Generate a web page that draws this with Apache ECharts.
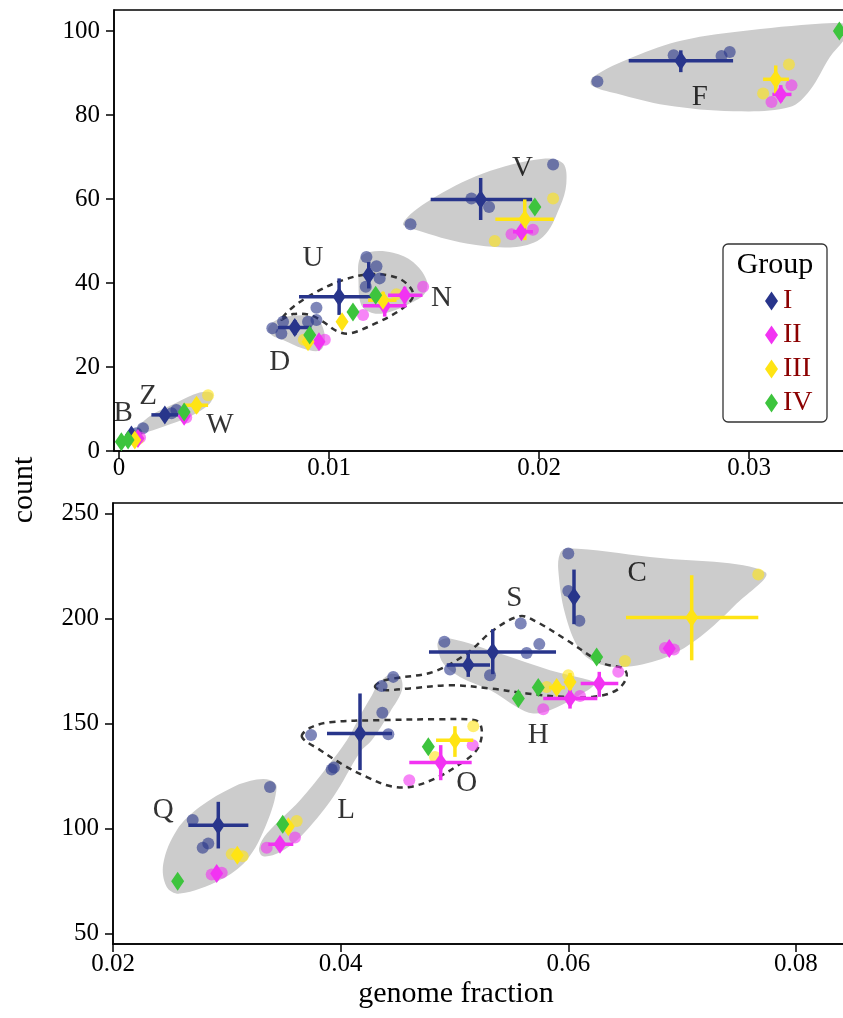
<!DOCTYPE html>
<html>
<head>
<meta charset="utf-8">
<script src="https://cdn.jsdelivr.net/npm/echarts@6/dist/echarts.min.js"></script>
<style>
  html, body { margin: 0; padding: 0; background: #fff; }
  #main { width: 843px; height: 1018px; }
</style>
</head>
<body>
<div id="main"></div>
<script>
const FONT = "'Liberation Serif', 'DejaVu Serif', serif";
const colI = '#28358B', colII = '#F233F2', colIII = '#FFE414', colIV = '#3DC43D';
const groups = ['I', 'II', 'III', 'IV'];

// tick values
const topXTicks = [0, 0.01, 0.02, 0.03];
const topYTicks = [0, 20, 40, 60, 80, 100];
const botXTicks = [0.02, 0.04, 0.06, 0.08];
const botYTicks = [50, 100, 150, 200, 250];

// group means: [x, y, xLow, xHigh, yLow, yHigh]
const topMeansI = [
  [0.02675, 92.9, 0.02427, 0.02924, 90.2, 95.4],
  [0.01722, 59.9, 0.01484, 0.01967, 55.0, 65.0],
  [0.01048, 36.7, 0.00857, 0.0125, 32.4, 41.1],
  [0.01189, 41.9, 0.0117, 0.01208, 38.7, 45.0],
  [0.00837, 29.4, 0.00757, 0.00916, 27.6, 31.2],
  [0.00218, 8.6, 0.00154, 0.00281, 7.1, 10.1],
  [0.00059, 3.8, 0.0004, 0.0008, 2.5, 5.0]
];
const topMeansII = [
  [0.03151, 84.9, 0.03111, 0.03202, 83.1, 87.1],
  [0.01916, 52.2, 0.01876, 0.01971, 51.0, 53.4],
  [0.01265, 34.6, 0.01162, 0.01369, 32.0, 36.7],
  [0.0136, 37.1, 0.01281, 0.01445, 35.1, 39.1],
  [0.00952, 26.0, 0.00952, 0.00952, 25.0, 27.0],
  [0.0031, 8.3, 0.0031, 0.0031, 7.5, 9.0],
  [0.0009, 3.0, 0.0009, 0.0009, 2.2, 3.8]
];
const topMeansIII = [
  [0.03127, 88.5, 0.03067, 0.0319, 85.1, 91.8],
  [0.01932, 55.2, 0.01792, 0.0207, 50.2, 59.9],
  [0.01257, 35.9, 0.01186, 0.01321, 33.5, 37.9],
  [0.01062, 30.8, 0.01062, 0.01062, 30.8, 30.8],
  [0.009, 26.0, 0.0088, 0.0092, 25.0, 27.0],
  [0.00369, 10.9, 0.00305, 0.00424, 9.0, 12.5],
  [0.00075, 2.6, 0.00075, 0.00075, 2.0, 3.2]
];
const topMeansIV = [
  [0.0343, 100], [0.0198, 58.1], [0.01222, 37.1], [0.01114, 33.1],
  [0.00908, 27.6], [0.0031, 9.3], [0.00011, 2.2], [0.00043, 2.6]
];

const botMeansI = [
  [0.0605, 210.3, 0.0604, 0.0606, 197.3, 223.3],
  [0.05336, 184.1, 0.04776, 0.05892, 173.5, 194.9],
  [0.05121, 177.8, 0.04932, 0.05312, 172.2, 183.3],
  [0.0417, 145.2, 0.0388, 0.04451, 127.8, 164.3],
  [0.02925, 101.6, 0.02662, 0.03189, 90.5, 112.7]
];
const botMeansII = [
  [0.06887, 185.7, 0.06887, 0.06887, 185.7, 185.7],
  [0.06015, 161.9, 0.0578, 0.06255, 157.1, 166.2],
  [0.06272, 169.0, 0.06109, 0.06439, 162.7, 174.6],
  [0.04879, 131.4, 0.04603, 0.05151, 123.0, 139.7],
  [0.03467, 92.5, 0.03364, 0.03584, 90.5, 94.5],
  [0.02911, 78.6, 0.02911, 0.02911, 77.5, 79.5]
];
const botMeansIII = [
  [0.07084, 200.5, 0.06507, 0.07669, 180.1, 220.6],
  [0.05898, 167.1, 0.0583, 0.0597, 165.0, 169.0],
  [0.06015, 169.8, 0.06015, 0.06015, 166.0, 174.0],
  [0.05004, 142.0, 0.04838, 0.05165, 134.1, 148.7],
  [0.0354, 100.8, 0.035, 0.0358, 98.5, 103.0],
  [0.03092, 87.3, 0.0306, 0.0312, 86.0, 88.5]
];
const botMeansIV = [
  [0.06249, 181.7], [0.05561, 161.9], [0.05736, 167.1],
  [0.0477, 138.9], [0.03491, 102.0], [0.02568, 74.9]
];

// single samples
const topDotsI = [
  [0.02278, 88.0], [0.02641, 94.2], [0.02869, 94.05], [0.02908, 95.0],
  [0.01388, 54.0], [0.01678, 60.1], [0.01762, 58.1], [0.02067, 68.2],
  [0.0094, 34.1], [0.01178, 46.2], [0.01226, 44.0], [0.01241, 41.1], [0.01175, 39.1],
  [0.0073, 29.2], [0.00781, 30.8], [0.00773, 28.0], [0.009, 30.8], [0.0094, 31.2],
  [0.00114, 5.4], [0.00273, 9.75], [0.0025, 9.0], [0.00083, 4.2]
];
const topDotsII = [
  [0.03107, 83.1], [0.03202, 87.1], [0.01869, 51.6], [0.01971, 52.7],
  [0.01448, 39.1], [0.01162, 32.4], [0.0098, 26.5], [0.0032, 8.0], [0.001, 3.2]
];
const topDotsIII = [
  [0.0319, 92.0], [0.03067, 85.1], [0.02067, 60.1], [0.01789, 50.0],
  [0.01321, 37.3], [0.00424, 13.3], [0.0088, 26.5], [0.0009, 2.8]
];
const botDotsI = [
  [0.06, 231.0], [0.06, 213.1], [0.06097, 198.9], [0.04911, 188.9], [0.04961, 175.7],
  [0.05312, 173.0], [0.05582, 197.6], [0.05634, 183.6], [0.05745, 187.8],
  [0.04462, 172.2], [0.0436, 167.8], [0.04419, 144.9], [0.04366, 155.1],
  [0.03921, 128.1], [0.03941, 129.0], [0.0374, 144.5],
  [0.027, 104.0], [0.02788, 90.8], [0.02837, 92.9], [0.03379, 119.8]
];
const botDotsII = [
  [0.06849, 186.0], [0.06928, 185.2], [0.0578, 156.8], [0.06103, 163.1], [0.06439, 174.6],
  [0.0516, 139.7], [0.04603, 123.0], [0.0335, 90.8], [0.03599, 95.7],
  [0.02867, 78.1], [0.02955, 78.9]
];
const botDotsIII = [
  [0.07669, 221.0], [0.06498, 179.8], [0.0581, 167.4], [0.06, 173.0],
  [0.05165, 148.7], [0.04829, 134.1], [0.03614, 103.6], [0.03043, 87.8], [0.03139, 86.8]
];

// cluster outlines (filled grey, or dashed)
const blobF = [[0.02257, 89.05], [0.02448, 93.81], [0.02686, 97.79], [0.03003, 100.17], [0.034, 101.9], [0.0347, 101.3], [0.0346, 98.5], [0.03385, 93.8], [0.0329, 85.9], [0.03194, 81.9], [0.02924, 80.9], [0.02607, 82.3], [0.02369, 85.1], [0.0225, 87.1]];
const blobV = [[0.01352, 54.18], [0.0148, 59.7], [0.01733, 66.1], [0.02019, 69.6], [0.02114, 68.5], [0.0213, 63.7], [0.02099, 58.1], [0.02019, 51.0], [0.01892, 48.6], [0.01654, 49.4], [0.01416, 52.6]];
const blobN = [[0.0114, 40.7], [0.01146, 45.8], [0.01194, 47.4], [0.01305, 47.2], [0.014, 45.0], [0.01464, 40.7], [0.01456, 37.5], [0.01384, 35.1], [0.01289, 33.1], [0.0121, 32.8], [0.01154, 34.7]];
const blobD = [[0.0071, 29.2], [0.0075, 31.2], [0.00829, 32.2], [0.00924, 32.0], [0.00964, 30.2], [0.0098, 26.4], [0.00956, 23.9], [0.00876, 24.4], [0.00781, 26.4], [0.00726, 27.6]];
const blobZW = [[0.00083, 5.0], [0.00146, 8.3], [0.00273, 11.5], [0.00384, 13.9], [0.00445, 13.7], [0.00432, 11.3], [0.00337, 8.2], [0.0021, 5.8], [0.00114, 4.4]];
const dashU = [[0.00773, 31.3], [0.00829, 32.6], [0.00908, 32.4], [0.00971, 30.8], [0.01035, 28.6], [0.01099, 28.0], [0.01226, 30.5], [0.01337, 33.5], [0.014, 36.7], [0.01384, 39.1], [0.01321, 41.3], [0.01194, 42.1], [0.01067, 40.7], [0.0094, 37.9], [0.00829, 34.3]];

const blobC = [[0.05971, 202.4], [0.05912, 223.0], [0.05927, 231.0], [0.0599, 233.5], [0.06718, 229.3], [0.07728, 222.2], [0.07479, 207.1], [0.07157, 191.2], [0.06864, 181.7], [0.06513, 177.0], [0.06278, 178.2], [0.06103, 184.9]];
const blobH = [[0.04858, 188.9], [0.04961, 190.5], [0.054, 183.3], [0.05839, 175.4], [0.06132, 171.4], [0.06234, 169.0], [0.06074, 162.7], [0.05839, 156.3], [0.05692, 154.8], [0.05547, 157.9], [0.05312, 165.9], [0.05048, 172.2], [0.04902, 178.6], [0.04858, 184.9]];
const blobL = [[0.04328, 168.7], [0.04433, 173.5], [0.04521, 172.5], [0.04539, 165.9], [0.04433, 155.4], [0.04275, 142.1], [0.0417, 136.3], [0.03933, 114.9], [0.03643, 95.8], [0.03467, 88.7], [0.03318, 86.8], [0.03283, 90.6], [0.03353, 97.7], [0.03643, 113.5], [0.0388, 129.2], [0.04056, 142.1], [0.04187, 155.4], [0.04275, 163.5]];
const blobQ = [[0.03379, 123.1], [0.03438, 119.8], [0.0335, 102.4], [0.03175, 85.0], [0.0294, 75.5], [0.02589, 69.0], [0.02472, 72.2], [0.02442, 83.3], [0.0256, 99.2], [0.02764, 110.3], [0.03057, 119.8], [0.03262, 123.3]];
const dashS = [[0.04302, 167.4], [0.04346, 169.8], [0.04462, 171.4], [0.04814, 174.6], [0.05107, 183.3], [0.05341, 194.4], [0.05576, 201.1], [0.05722, 198.4], [0.05986, 189.7], [0.06307, 178.6], [0.06483, 176.2], [0.06513, 172.2], [0.06425, 165.9], [0.0622, 162.7], [0.05956, 162.7], [0.05634, 164.3], [0.05312, 166.7], [0.04961, 168.2], [0.04609, 166.7], [0.04375, 165.9]];
const dashO = [[0.0366, 143.6], [0.0373, 147.9], [0.03906, 150.6], [0.04346, 151.6], [0.04873, 152.0], [0.0518, 151.6], [0.05233, 148.7], [0.05233, 142.1], [0.0518, 136.3], [0.05048, 130.7], [0.04838, 124.0], [0.04609, 119.8], [0.04433, 120.2], [0.04231, 124.5], [0.04038, 129.8], [0.03818, 137.4]];

// cluster names
const topLabels = [['F', 0.02765, 84.3], ['V', 0.01921, 67.3], ['U', 0.00924, 45.9], ['N', 0.01535, 36.3], ['D', 0.00765, 21.2], ['Z', 0.00138, 12.9], ['W', 0.0048, 6.2], ['B', 0.0002, 9.0]];
const botLabels = [['C', 0.06606, 221.4], ['S', 0.05526, 209.5], ['H', 0.05736, 144.4], ['L', 0.04047, 108.7], ['O', 0.05107, 121.4], ['Q', 0.02442, 108.7]];

const chart = echarts.init(document.getElementById('main'));

function fmt(v) { return String(parseFloat(v.toFixed(4))); }

function hull(pts, idx, dashed) {
  return {
    type: 'custom', xAxisIndex: idx, yAxisIndex: idx, silent: true,
    z: dashed ? 2 : 1,
    data: [pts[0]],
    renderItem: function (params, api) {
      var p = pts.map(function (d) { return api.coord(d); });
      return {
        type: 'polygon',
        shape: { points: p, smooth: 0.35 },
        style: dashed
          ? { fill: 'none', stroke: '#333', lineWidth: 2.5, lineDash: [6, 5] }
          : { fill: '#cccccc' }
      };
    }
  };
}

function errBars(rows, idx, color) {
  return {
    type: 'custom', xAxisIndex: idx, yAxisIndex: idx, silent: true, z: 4,
    encode: { x: 0, y: 1 },
    data: rows,
    renderItem: function (params, api) {
      var x = api.value(0), y = api.value(1);
      var a = api.coord([api.value(2), y]), b = api.coord([api.value(3), y]);
      var c = api.coord([x, api.value(4)]), d = api.coord([x, api.value(5)]);
      var st = { stroke: color, lineWidth: 3.5 };
      return {
        type: 'group', children: [
          { type: 'line', shape: { x1: a[0], y1: a[1], x2: b[0], y2: b[1] }, style: st },
          { type: 'line', shape: { x1: c[0], y1: c[1], x2: d[0], y2: d[1] }, style: st }
        ]
      };
    }
  };
}

function means(rows, idx, name, color) {
  return {
    type: 'scatter', name: name, xAxisIndex: idx, yAxisIndex: idx, z: 5,
    symbol: 'diamond', symbolSize: [13, 19], clip: false,
    itemStyle: { color: color, opacity: 1 },
    data: rows.map(function (r) { return [r[0], r[1]]; })
  };
}

function dots(rows, idx, color) {
  return {
    type: 'scatter', xAxisIndex: idx, yAxisIndex: idx, z: 3, silent: true,
    symbol: 'circle', symbolSize: 12, clip: false,
    itemStyle: { color: color, opacity: 0.6 },
    data: rows
  };
}

function labels(rows, idx) {
  return {
    type: 'scatter', xAxisIndex: idx, yAxisIndex: idx, z: 6, silent: true,
    symbolSize: 0, clip: false,
    label: { show: true, position: 'inside', formatter: '{b}', fontFamily: FONT, fontSize: 29, color: '#000' },
    data: rows.map(function (r) { return { name: r[0], value: [r[1], r[2]] }; })
  };
}

const series = [];
[blobF, blobV, blobN, blobD, blobZW].forEach(function (b) { series.push(hull(b, 0, false)); });
series.push(hull(dashU, 0, true));
[blobC, blobH, blobL, blobQ].forEach(function (b) { series.push(hull(b, 1, false)); });
[dashS, dashO].forEach(function (b) { series.push(hull(b, 1, true)); });

series.push(dots(topDotsI, 0, colI), dots(topDotsII, 0, colII), dots(topDotsIII, 0, colIII));
series.push(dots(botDotsI, 1, colI), dots(botDotsII, 1, colII), dots(botDotsIII, 1, colIII));

const topRows = [topMeansI, topMeansII, topMeansIII];
const botRows = [botMeansI, botMeansII, botMeansIII];
const cols = [colI, colII, colIII, colIV];
for (let g = 0; g < 3; g++) {
  series.push(errBars(topRows[g], 0, cols[g]), means(topRows[g], 0, groups[g], cols[g]));
  series.push(errBars(botRows[g], 1, cols[g]), means(botRows[g], 1, groups[g], cols[g]));
}
series.push(means(topMeansIV, 0, 'IV', colIV), means(botMeansIV, 1, 'IV', colIV));
series.push(labels(topLabels, 0), labels(botLabels, 1));

const axisLine = { show: true, onZero: false, lineStyle: { color: '#000', width: 1.5 } };
function axLabel(ticks, margin) {
  return { customValues: ticks, formatter: fmt, margin: margin, fontFamily: FONT, fontSize: 25, color: '#000' };
}
function axTick(ticks) {
  return { show: true, customValues: ticks, length: 8, inside: false, lineStyle: { color: '#000', width: 1.5 } };
}

const option = {
  animation: false,
  backgroundColor: '#fff',
  grid: [
    { left: 114, top: 10, right: -10, height: 441, show: true, borderColor: '#000', borderWidth: 1.5, outerBoundsMode: 'none' },
    { left: 113, top: 503, right: -10, height: 441, show: true, borderColor: '#000', borderWidth: 1.5, outerBoundsMode: 'none' }
  ],
  xAxis: [
    { gridIndex: 0, type: 'value', min: -0.00024, max: 0.03495, axisLine: axisLine, axisTick: axTick(topXTicks), axisLabel: axLabel(topXTicks, 5), splitLine: { show: false } },
    { gridIndex: 1, type: 'value', min: 0.02, max: 0.08501, axisLine: axisLine, axisTick: axTick(botXTicks), axisLabel: axLabel(botXTicks, 8), splitLine: { show: false } }
  ],
  yAxis: [
    { gridIndex: 0, type: 'value', min: 0, max: 105, axisLine: axisLine, axisTick: axTick(topYTicks), axisLabel: axLabel(topYTicks, 14), splitLine: { show: false } },
    { gridIndex: 1, type: 'value', min: 45, max: 255, axisLine: axisLine, axisTick: axTick(botYTicks), axisLabel: axLabel(botYTicks, 14), splitLine: { show: false } }
  ],
  legend: {
    data: groups, orient: 'vertical', left: 765, top: 287, padding: 0,
    icon: 'diamond', itemWidth: 13, itemHeight: 19, itemGap: 6,
    textStyle: { fontFamily: FONT, fontSize: 28, color: '#8B0000' },
    selectedMode: false
  },
  graphic: [
    { type: 'rect', z: 3, shape: { x: 723, y: 244, width: 104, height: 178, r: 5 }, style: { fill: 'none', stroke: '#333', lineWidth: 1.3 } },
    { type: 'text', z: 10, x: 775, y: 265, style: { text: 'Group', font: '30px ' + FONT, fill: '#000', textAlign: 'center', textVerticalAlign: 'middle' } },
    { type: 'text', z: 10, x: 24, y: 490, rotation: Math.PI / 2, style: { text: 'count', font: '30px ' + FONT, fill: '#000', textAlign: 'center', textVerticalAlign: 'middle' } },
    { type: 'text', z: 10, x: 456, y: 994, style: { text: 'genome fraction', font: '30px ' + FONT, fill: '#000', textAlign: 'center', textVerticalAlign: 'middle' } }
  ],
  series: series
};
chart.setOption(option);
</script>
</body>
</html>
